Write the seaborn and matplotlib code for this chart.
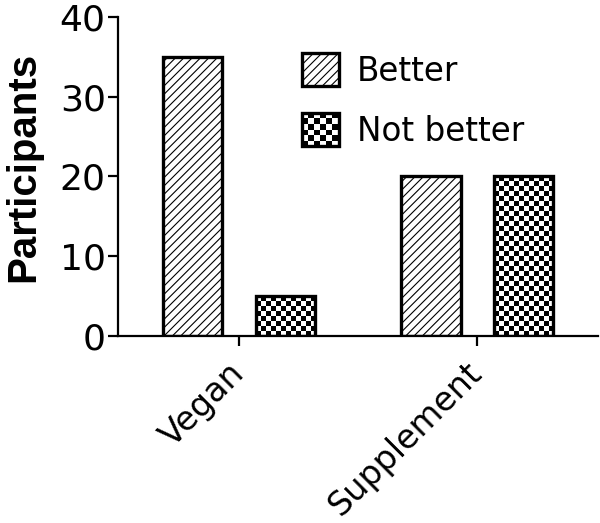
import numpy as np
import pandas as pd
import matplotlib
matplotlib.use("Agg")
import matplotlib.pyplot as plt
import seaborn as sns
from matplotlib.patches import Patch, Rectangle
from matplotlib.legend_handler import HandlerBase

groups = ["Vegan", "Supplement"]
outcomes = ["Better", "Not better"]
better = [35, 20]
not_better = [5, 20]
y_ticks = [0, 10, 20, 30, 40]

df = pd.DataFrame({
    "group": groups * 2,
    "outcome": [outcomes[0]] * 2 + [outcomes[1]] * 2,
    "participants": better + not_better,
})

EDGE_LW = 2.4
CELL_PX = 5  # checkerboard cell size in pixels
HATCH = "////"


class CheckerHandler(HandlerBase):
    # legend box filled with a checkerboard, like the bars
    def create_artists(self, legend, orig_handle, xdescent, ydescent,
                       width, height, fontsize, trans):
        arts = []
        n = 6
        cw, ch = width / n, height / n
        for i in range(n):
            for j in range(n):
                if (i + j) % 2 == 0:
                    arts.append(Rectangle((-xdescent + i * cw, -ydescent + j * ch), cw, ch,
                                          facecolor="black", edgecolor="none", transform=trans))
        arts.append(Rectangle((-xdescent, -ydescent), width, height, facecolor="none",
                              edgecolor="black", linewidth=EDGE_LW, transform=trans))
        return arts


sns.set_theme(style="ticks")
plt.rcParams["font.family"] = ["DejaVu Sans"]
plt.rcParams["hatch.linewidth"] = 0.8
plt.rcParams["text.color"] = "black"
plt.rcParams["axes.labelcolor"] = "black"

fig = plt.figure(figsize=(6, 5.23), dpi=100)
ax = fig.add_axes([0.197, 0.3576, 0.8, 0.61])

sns.barplot(data=df, x="group", y="participants", hue="outcome",
            order=groups, hue_order=outcomes, palette=["white", "white"],
            edgecolor="black", linewidth=EDGE_LW, width=0.78, gap=0.36,
            legend=False, ax=ax)

ax.set_xlim(-0.508, 1.508)
ax.set_ylim(0, 40)
ax.set_yticks(y_ticks)
fig.canvas.draw()

for bar in ax.patches:
    x0, y0 = bar.get_x(), bar.get_y()
    w, h = bar.get_width(), bar.get_height()
    cx = x0 + w / 2
    if cx < round(cx):
        bar.set_hatch(HATCH)
    else:
        p0 = ax.transData.transform((x0, y0))
        p1 = ax.transData.transform((x0 + w, y0 + h))
        nx = max(1, round((p1[0] - p0[0]) / CELL_PX))
        ny = max(1, round((p1[1] - p0[1]) / CELL_PX))
        board = np.add.outer(np.arange(ny), np.arange(nx)) % 2
        ax.imshow(board, cmap="gray", extent=(x0, x0 + w, y0, y0 + h), origin="lower",
                  interpolation="nearest", aspect="auto", zorder=bar.get_zorder() - 0.01)
        bar.set_facecolor("none")

ax.set_xlim(-0.508, 1.508)
ax.set_ylim(0, 40)

sns.despine(ax=ax)
for side in ["left", "bottom"]:
    ax.spines[side].set_linewidth(1.6)
    ax.spines[side].set_color("black")

ax.tick_params(axis="both", colors="black", width=1.6, length=7)
ax.tick_params(axis="y", labelsize=26, pad=2)
ax.tick_params(axis="x", labelsize=24, pad=16)
ax.set_xlabel("")
ax.set_xticks(range(len(groups)))
ax.set_xticklabels(groups, rotation=45, ha="right", va="center", rotation_mode="anchor")
ax.set_ylabel("Participants", fontsize=29, fontweight="bold",
              family=["Liberation Sans", "DejaVu Sans"])
ax.yaxis.set_label_coords(-0.158, 0.53)

h_better = Patch(facecolor="white", edgecolor="black", hatch=HATCH, linewidth=EDGE_LW)
h_not = Patch(facecolor="white", edgecolor="black", linewidth=EDGE_LW)
ax.legend(handles=[h_better, h_not], labels=outcomes, handler_map={h_not: CheckerHandler()},
          loc="upper left", bbox_to_anchor=(302 / 600, 1 - 53 / 523),
          bbox_transform=fig.transFigure, frameon=False, fontsize=23.5,
          handlelength=1.12, handleheight=1.2, handletextpad=0.55,
          labelspacing=0.77, borderpad=0, borderaxespad=0)

fig.savefig("out.png", dpi=100)
